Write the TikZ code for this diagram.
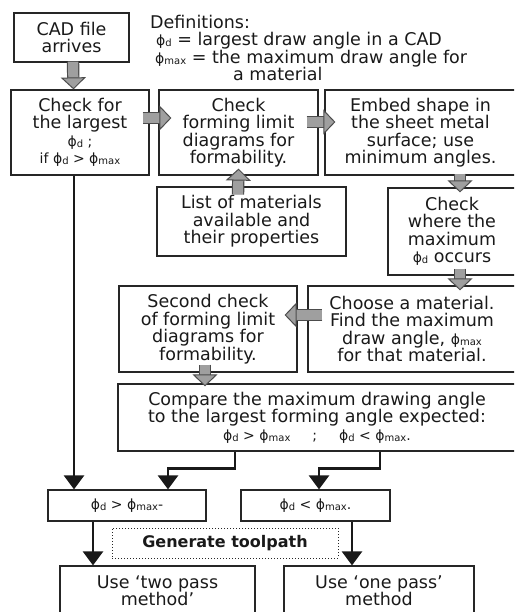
\documentclass[tikz,border=0pt]{standalone}
\usepackage{fontspec}
\setmainfont{DejaVu Sans}
\usetikzlibrary{arrows.meta}

\newcommand{\bigtxt}{\fontsize{17.5}{17.5}\selectfont}
\newcommand{\smalltxt}{\fontsize{14}{17.5}\selectfont}
\newcommand{\subtxt}{\fontsize{10}{10}\selectfont}
\newcommand{\phid}{{\smalltxt ϕ\raisebox{-1pt}{\subtxt d}}}
\newcommand{\phimax}{{\smalltxt ϕ\raisebox{-1pt}{\subtxt max}}}

\begin{document}
\begin{tikzpicture}[x=1pt, y=-1pt,
    box/.style={draw=black!85, line width=1.2pt, align=center,
      font=\bigtxt, text=black!90, inner sep=0pt},
    fat/.style={double=gray!75, double distance=10pt, line width=1.2pt,
      draw=black!70,
      -{Triangle[width=25pt,length=12pt,line width=1pt,color=black!70,fill=gray!75]}},
    link/.style={line width=2.5pt, draw=black!90,
      -{Triangle[width=20pt,length=14pt]}}
  ]
    \useasboundingbox (0,0) rectangle (514,612);
    \clip (0,0) rectangle (514,612);

    % top row
    \node[box, minimum width=115pt, minimum height=49pt] (cad) at (71.5,37.5)
      {CAD file\\arrives};
    \node[anchor=north west, align=left, font=\bigtxt, text=black!90,
      inner sep=0pt] (defs) at (150,15)
      {Definitions:\\
       \hspace{6pt}\phid{} = largest draw angle in a CAD\\
       \hspace{5pt}\phimax{} = the maximum draw angle for\\
       \hspace{83pt}a material};

    \node[box, minimum width=138pt, minimum height=85pt] (chk) at (80,132.5)
      {Check for\\the largest\\{\smalltxt\phid{} ;}\\{\smalltxt if \phid{} > \phimax}};
    \node[box, minimum width=159pt, minimum height=85pt] (fld) at (238.5,132.5)
      {Check\\forming limit\\diagrams for\\formability.};
    \node[box, minimum width=191pt, minimum height=85pt] (emb) at (420.5,132.5)
      {Embed shape in\\the sheet metal\\surface; use\\minimum angles.};

    % middle
    \node[box, minimum width=189pt, minimum height=69pt] (lst) at (251.5,221.5)
      {List of materials\\available and\\their properties};
    \node[box, minimum width=128pt, minimum height=87pt] (whr) at (452,231.5)
      {Check\\where the\\maximum\\\phid{} occurs};
    \node[box, minimum width=178pt, minimum height=86pt] (sec) at (208,329)
      {Second check\\of forming limit\\diagrams for\\formability.};
    \node[box, minimum width=208pt, minimum height=86pt] (cho) at (412,329)
      {Choose a material.\\Find the maximum\\draw angle, \phimax\\for that material.};
    \node[box, minimum width=398pt, minimum height=67pt] (cmp) at (317,417.5)
      {Compare the maximum drawing angle\\to the largest forming angle expected:\\
       {\smalltxt\phid{} > \phimax\hspace{22pt};\hspace{22pt}\phid{} < \phimax.}};

    % bottom
    \node[box, minimum width=158pt, minimum height=31pt, font=\smalltxt] (gt) at (127,505.5)
      {\phid{} > \phimax-};
    \node[box, minimum width=149pt, minimum height=31pt, font=\smalltxt] (lt) at (315.5,505.5)
      {\phid{} < \phimax.};
    \node[draw=black!85, dotted, line width=1pt, minimum width=226pt, minimum height=30pt,
      font=\bfseries\fontsize{16}{16}\selectfont, text=black!90] (gen) at (225,543)
      {Generate toolpath};
    \node[box, minimum width=195pt, minimum height=49pt] (two) at (157.5,590.5)
      {Use ‘two pass\\method’};
    \node[box, minimum width=190pt, minimum height=49pt] (one) at (379,590.5)
      {Use ‘one pass’\\method};

    % grey block arrows
    \draw[fat] ([xshift=1.5pt,yshift=1pt]cad.south) -- ([xshift=-6.5pt]chk.north);
    \draw[fat] ([xshift=-7pt,yshift=14.5pt]chk.east) -- ([xshift=13pt,yshift=14.5pt]fld.west);
    \draw[fat] ([xshift=-12pt,yshift=10.5pt]fld.east) -- ([xshift=11pt,yshift=10.5pt]emb.west);
    \draw[fat] ([xshift=-13.5pt,yshift=-8pt]lst.north) -- ([yshift=7pt]fld.south);
    \draw[fat] ([xshift=39.5pt,yshift=2pt]emb.south) -- ([xshift=8pt,yshift=-5pt]whr.north);
    \draw[fat] ([xshift=8pt,yshift=7pt]whr.south) -- ([xshift=48pt,yshift=-5pt]cho.north);
    \draw[fat] ([xshift=15pt,yshift=14pt]cho.west) -- ([xshift=-13pt,yshift=14pt]sec.east);
    \draw[fat] ([xshift=-3pt,yshift=8pt]sec.south) -- ([xshift=-112pt,yshift=-3pt]cmp.north);

    % black arrows
    \draw[link] ([xshift=-6pt]chk.south) -- ([xshift=-53pt]gt.north);
    \draw[link] ([xshift=-82pt]cmp.south) -- ++(0,17) -| ([xshift=41pt]gt.north);
    \draw[link] ([xshift=63pt]cmp.south) -- ++(0,17) -| ([xshift=3.5pt]lt.north);
    \draw[link] ([xshift=-34pt]gt.south) -- ([xshift=-64.5pt]two.north);
    \draw[link] ([xshift=36.5pt]lt.south) -- ([xshift=-27pt]one.north);
  \end{tikzpicture}
\end{document}
